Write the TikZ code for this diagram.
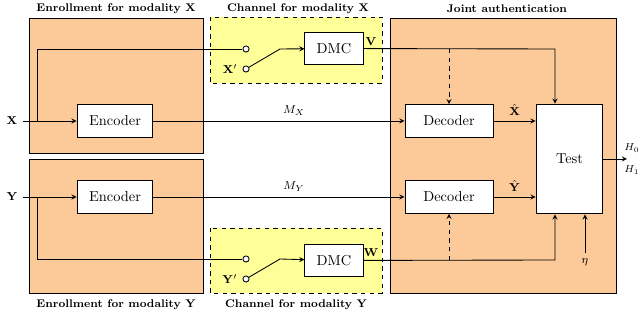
\documentclass[tikz,border=0pt]{standalone}
\usetikzlibrary{positioning}

\definecolor{enrollfill}{RGB}{252,201,152}
\definecolor{chanfill}{RGB}{255,255,153}

\tikzset{
    block/.style={draw, fill=white, minimum height=0.8cm, inner sep=0pt},
    contact/.style={circle, draw, fill=white, inner sep=0pt, minimum size=1.5mm},
    title/.style={font=\fontsize{7.7}{9}\selectfont\bfseries},
    sig/.style={font=\footnotesize},
}

\begin{document}
\begin{tikzpicture}[x=0.0244cm, y=-0.0244cm, >=stealth, semithick]

    \useasboundingbox (0,0) rectangle (639,320);

    % regions
    \filldraw[fill=enrollfill] (29,18) rectangle (203,153);
    \filldraw[fill=enrollfill] (29,159) rectangle (203,293);
    \filldraw[fill=enrollfill] (390,18) rectangle (616,293);
    \filldraw[fill=chanfill, dashed] (210,17) rectangle (382,83);
    \filldraw[fill=chanfill, dashed] (210,228) rectangle (382,293);

    \node[title] (tEnrollX) at (116,9) {Enrollment for modality X};
    \node[title] (tChanX) at (298,9) {Channel for modality X};
    \node[title] (tJoint) at (507,9) {Joint authentication};
    \node[title] (tEnrollY) at (116,305) {Enrollment for modality Y};
    \node[title] (tChanY) at (296,305) {Channel for modality Y};

    % blocks
    \node[block, minimum width=1.85cm] (encX) at (115,121) {Encoder};
    \node[block, minimum width=1.85cm] (encY) at (115,197) {Encoder};
    \node[block, minimum width=2.15cm] (decX) at (449,121) {Decoder};
    \node[block, minimum width=2.15cm] (decY) at (449,197) {Decoder};
    \node[block, minimum width=1.63cm, minimum height=2.68cm] (test) at (569.5,159) {Test};
    \node[block, minimum width=1.42cm] (dmcX) at (334,48.5) {DMC};
    \node[block, minimum width=1.42cm] (dmcY) at (334,260.5) {DMC};

    % switches
    \node[contact] (swXa) at (246,49) {};
    \node[contact] (swXb) at (246,69) {};
    \node[sig, left=0pt of swXb] (lblXp) {$\mathbf{X}'$};
    \coordinate (levX) at (280,49);
    \node[contact] (swYa) at (246,259) {};
    \node[contact] (swYb) at (246,279) {};
    \node[sig, left=0pt of swYb] (lblYp) {$\mathbf{Y}'$};
    \coordinate (levY) at (280,259);

    % modality X
    \node[sig] (inX) at (12,121) {$\mathbf{X}$};
    \coordinate (brX) at (37,121);
    \draw[->] (inX) -- (encX);
    \draw (brX) |- (swXa);
    \draw (swXb) -- (levX);
    \draw[->] (levX) -- (dmcX);
    \coordinate (vTurn) at (555,49);
    \draw[->] (dmcX) -- (vTurn) -- (vTurn |- test.north);
    \node[sig] (lblV) at (371,42) {$\mathbf{V}$};
    \draw[dashed, ->] (decX |- vTurn) -- (decX);
    \draw[->] (encX) -- node[sig, above, pos=.56] {$M_X$} (decX);
    \draw[->] (decX) -- node[sig, above] {$\hat{\mathbf{X}}$} (decX -| test.west);

    % modality Y
    \node[sig] (inY) at (12,197) {$\mathbf{Y}$};
    \coordinate (brY) at (37,197);
    \draw[->] (inY) -- (encY);
    \draw (brY) |- (swYa);
    \draw (swYb) -- (levY);
    \draw[->] (levY) -- (dmcY);
    \coordinate (wTurn) at (555,260);
    \draw[->] (dmcY) -- (wTurn) -- (wTurn |- test.south);
    \node[sig] (lblW) at (371,253) {$\mathbf{W}$};
    \draw[dashed, ->] (decY |- wTurn) -- (decY);
    \draw[->] (encY) -- node[sig, above, pos=.56] {$M_Y$} (decY);
    \draw[->] (decY) -- node[sig, above] {$\hat{\mathbf{Y}}$} (decY -| test.west);

    % threshold and decision
    \node[sig] (eta) at (585,262) {$\eta$};
    \draw[->] (eta) -- (eta |- test.south);
    \coordinate (outH) at (627,159);
    \draw[->] (test) -- (outH);
    \node[font=\scriptsize] (hZero) at (632,148) {$H_0$};
    \node[font=\scriptsize] (hOne) at (632,170) {$H_1$};

\end{tikzpicture}
\end{document}
